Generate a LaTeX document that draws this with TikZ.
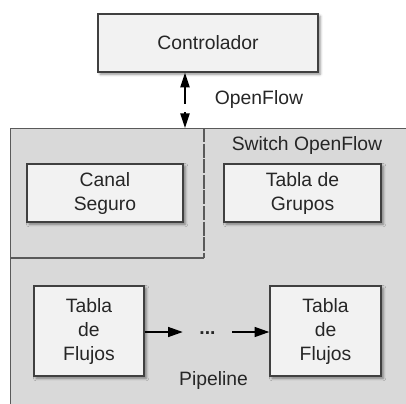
\documentclass[tikz,border=0pt]{standalone}
\usepackage{fontspec}
\setmainfont{Liberation Sans}
\usetikzlibrary{arrows.meta,shadows.blur}
\definecolor{boxfill}{HTML}{F2F2F2}
\definecolor{swfill}{HTML}{D9D9D9}
\definecolor{edge}{HTML}{404040}
\definecolor{swedge}{HTML}{5A5A5A}
\definecolor{ink}{HTML}{262626}
\tikzset{
  blockbox/.style={draw=edge, fill=boxfill, line width=1.1pt, align=center,
    text=ink, inner sep=0pt,
    blur shadow={shadow xshift=1.6pt, shadow yshift=-1.6pt, shadow blur radius=2pt, shadow opacity=45}},
  label text/.style={text=ink, inner sep=0pt},
  flow/.style={-{Triangle[length=11pt,width=7.5pt]}, line width=1pt, draw=black},
}
\begin{document}
\begin{tikzpicture}[x=0.75pt, y=-0.75pt,
  every node/.style={font=\fontsize{14.5}{18}\selectfont}]
\useasboundingbox (0,0) rectangle (406,403);
\clip (0,0) rectangle (406,403);

% switch enclosure, running past the right and bottom edges
\node[draw=swedge, fill=swfill, line width=1.1pt, anchor=north west,
  minimum width=330pt, minimum height=225pt, inner sep=0pt] (switch) at (10,128) {};
\node[label text] (swlabel) at (307,145) {Switch OpenFlow};

% secure-channel compartment
\coordinate (chtop) at (204,128);
\coordinate (chcorner) at (204,258);
\coordinate (chleft) at (10,258);
\draw[swedge, line width=1.1pt, dash pattern=on 10.5pt off 1.2pt] (chtop) -- (chcorner);
\draw[swedge, line width=1.1pt] (chcorner) -- (chleft);

% controller and its OpenFlow link
\node[blockbox, minimum width=165pt, minimum height=43.5pt] (ctrl) at (208,43) {Controlador};
\coordinate (ax) at (185,0);
\draw[line width=1pt, {Triangle[length=11pt,width=7pt]}-{Triangle[length=11pt,width=7pt]},
  dash pattern=on 13pt off 6pt] (ctrl.south -| ax) -- (switch.north -| ax);
\node[label text] (oflabel) at (259,100) {OpenFlow};

% switch components
\node[blockbox, minimum width=117pt, minimum height=43.5pt] (canal) at (105,193) {Canal\\Seguro};
\node[blockbox, minimum width=117.75pt, minimum height=43.5pt] (grupos) at (302.5,193) {Tabla de\\Grupos};

% pipeline of flow tables
\node[blockbox, minimum width=82.5pt, minimum height=67.5pt] (fl1) at (89,331) {Tabla\\de\\Flujos};
\node[blockbox, minimum width=83.25pt, minimum height=67.5pt] (fl2) at (325.5,331) {Tabla\\de\\Flujos};
\node[label text, minimum width=36.75pt, font=\fontsize{14.5}{18}\selectfont\bfseries] (dots) at (207.5,333) {...};
\draw[flow] (fl1.east |- 0,332) -- (dots.west |- 0,332);
\draw[flow] (dots.east |- 0,332) -- (fl2.west |- 0,332);
\node[label text] (pipe) at (213.5,380) {Pipeline};
\end{tikzpicture}
\end{document}
